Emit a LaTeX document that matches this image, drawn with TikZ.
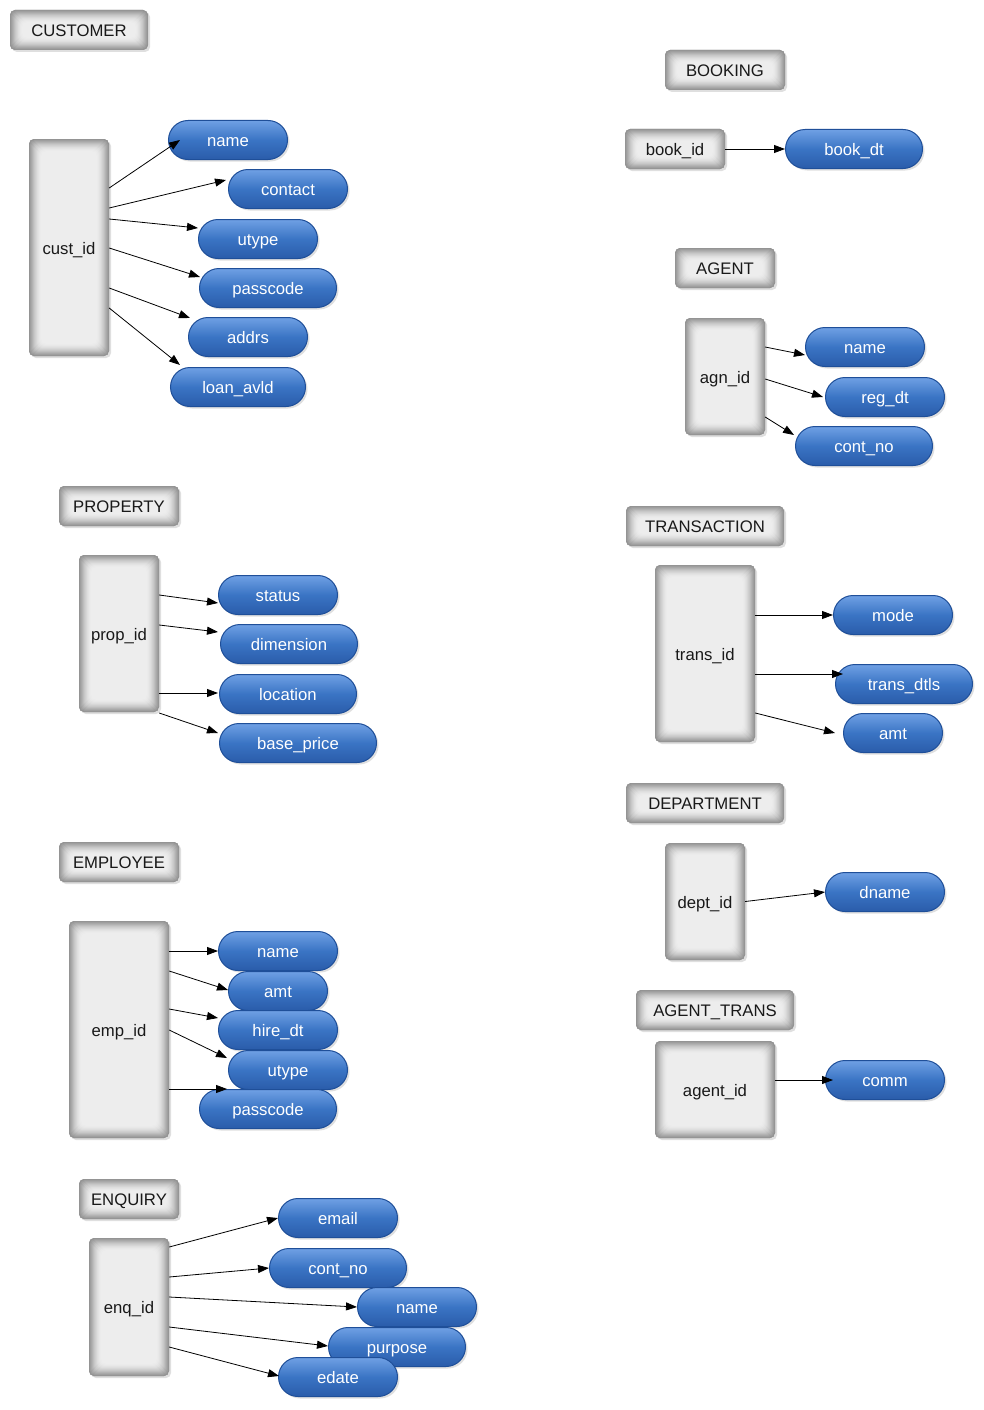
\documentclass[tikz,border=0pt]{standalone}
\usepackage{fontspec}
\setmainfont{Liberation Sans}
\usetikzlibrary{arrows.meta,shadows,calc}
\definecolor{pilltop}{HTML}{6FA0E4}
\definecolor{pillmid}{HTML}{3A74C4}
\definecolor{pillbot}{HTML}{2A5CAA}
\definecolor{pillborder}{HTML}{1F4F99}
\newcommand{\ff}{\fontsize{16.7}{18}\selectfont}
\tikzset{
  graybox/.style={rounded corners=5pt, inner sep=0pt, font=\ff, text=black!90,
    minimum height=40pt, text height=14pt, text depth=1pt,
    drop shadow={shadow xshift=2pt, shadow yshift=-2pt, opacity=0.25, fill=black!50},
    fill=black!42,
    path picture={
      \foreach \i/\c in {0/42,1/38,2/34,3/30,4/26,5/22,6/19,7/16,8/13,9/11,10/9,11/8,12/7}{
        \fill[black!\c, rounded corners=5pt]
          ([shift={(\i pt,-\i pt)}]path picture bounding box.north west) rectangle
          ([shift={(-\i pt,\i pt)}]path picture bounding box.south east);
      }
    }},
  pill/.style={rounded corners=19.5pt, draw=pillborder, line width=1pt,
    top color=pilltop, bottom color=pillbot, middle color=pillmid,
    text=white, font=\ff, minimum height=39pt, inner sep=0pt,
    text height=14pt, text depth=1pt,
    drop shadow={shadow xshift=2pt, shadow yshift=-2pt, opacity=0.25, fill=black!50}},
  arr/.style={draw=black, line width=0.8pt, -{Triangle[length=11pt,width=8pt]}},
}
\begin{document}
\begin{tikzpicture}[x=1pt,y=-1pt]
\fill[white] (0,0) rectangle (983,1410);
\useasboundingbox (0,0) rectangle (983,1410);

% ---------------- CUSTOMER
\node[graybox, minimum width=138pt] (hcust) at (79,30) {CUSTOMER};
\node[graybox, minimum width=80pt, minimum height=217pt] (cust) at (69,247.5) {cust\_id};
\node[pill, minimum width=119pt] (cname) at (228,140) {name};
\node[pill, minimum width=119pt] (ccontact) at (288,189) {contact};
\node[pill, minimum width=119pt] (cutype) at (258,239) {utype};
\node[pill, minimum width=137pt] (cpass) at (268,288) {passcode};
\node[pill, minimum width=119pt] (caddrs) at (248,337) {addrs};
\node[pill, minimum width=135pt] (cloan) at (238,387) {loan\_avld};

% ---------------- BOOKING
\node[graybox, minimum width=120pt] (hbook) at (725,70) {BOOKING};
\node[graybox, minimum width=100pt] (book) at (675,149) {book\_id};
\node[pill, minimum width=137pt] (bdt) at (854,149) {book\_dt};

% ---------------- AGENT
\node[graybox, minimum width=100pt] (hagent) at (725,268) {AGENT};
\node[graybox, minimum width=80pt, minimum height=117pt] (agn) at (725,376.5) {agn\_id};
\node[pill, minimum width=119pt] (aname) at (865,347) {name};
\node[pill, minimum width=119pt] (areg) at (885,397) {reg\_dt};
\node[pill, minimum width=137pt] (acont) at (864,446) {cont\_no};

% ---------------- TRANSACTION
\node[graybox, minimum width=158pt] (htrans) at (705,526) {TRANSACTION};
\node[graybox, minimum width=100pt, minimum height=177pt] (trans) at (705,653.5) {trans\_id};
\node[pill, minimum width=119pt] (tmode) at (893,615) {mode};
\node[pill, minimum width=137pt] (tdtls) at (904,684) {trans\_dtls};
\node[pill, minimum width=99pt] (tamt) at (893,733) {amt};

% ---------------- DEPARTMENT
\node[graybox, minimum width=158pt] (hdept) at (705,803) {DEPARTMENT};
\node[graybox, minimum width=80pt, minimum height=117pt] (dept) at (705,901.5) {dept\_id};
\node[pill, minimum width=119pt] (dname) at (885,892) {dname};

% ---------------- AGENT_TRANS
\node[graybox, minimum width=158pt] (hat) at (715,1010) {AGENT\_TRANS};
\node[graybox, minimum width=120pt, minimum height=97pt] (agt) at (715,1089.5) {agent\_id};
\node[pill, minimum width=119pt] (comm) at (885,1080) {comm};

% ---------------- PROPERTY
\node[graybox, minimum width=120pt] (hprop) at (119,506) {PROPERTY};
\node[graybox, minimum width=80pt, minimum height=157pt] (prop) at (119,633.5) {prop\_id};
\node[pill, minimum width=119pt] (pstatus) at (278,595) {status};
\node[pill, minimum width=137pt] (pdim) at (289,644) {dimension};
\node[pill, minimum width=137pt] (ploc) at (288,694) {location};
\node[pill, minimum width=157pt] (pbase) at (298,743) {base\_price};

% ---------------- EMPLOYEE
\node[graybox, minimum width=120pt] (hemp) at (119,862) {EMPLOYEE};
\node[graybox, minimum width=100pt, minimum height=217pt] (emp) at (119,1029.5) {emp\_id};
\node[pill, minimum width=119pt] (ename) at (278,951) {name};
\node[pill, minimum width=99pt] (eamt) at (278,991) {amt};
\node[pill, minimum width=119pt] (ehire) at (278,1030) {hire\_dt};
\node[pill, minimum width=119pt] (eutype) at (288,1070) {utype};
\node[pill, minimum width=137pt] (epass) at (268,1109) {passcode};

% ---------------- ENQUIRY
\node[graybox, minimum width=100pt] (henq) at (129,1199) {ENQUIRY};
\node[graybox, minimum width=80pt, minimum height=138pt] (enq) at (129,1307) {enq\_id};
\node[pill, minimum width=119pt] (qemail) at (338,1218) {email};
\node[pill, minimum width=137pt] (qcont) at (338,1268) {cont\_no};
\node[pill, minimum width=119pt] (qname) at (417,1307) {name};
\node[pill, minimum width=137pt] (qpurp) at (397,1347) {purpose};
\node[pill, minimum width=119pt] (qedate) at (338,1377) {edate};

% ================= connectors
% customer
\draw[arr] ($(cust.east)+(0,-59.5)$) -- ($(cname.west)+(12,0)$);
\draw[arr] ($(cust.east)+(0,-39.5)$) -- ($(ccontact.west)+(-2,-9)$);
\draw[arr] ($(cust.east)+(0,-28.5)$) -- ($(cutype.west)+(0,-11)$);
\draw[arr] ($(cust.east)+(0,0.5)$) -- ($(cpass.west)+(1,-11)$);
\draw[arr] ($(cust.east)+(0,40.5)$) -- ($(caddrs.west)+(2,-19)$);
\draw[arr] ($(cust.east)+(0,60.5)$) -- ($(cloan.west)+(10,-22)$);
% booking
\draw[arr] (book.east) -- (bdt.west);
% agent
\draw[arr] ($(agn.east)+(0,-29.5)$) -- ($(aname.west)+(0,8)$);
\draw[arr] ($(agn.east)+(0,2.5)$) -- ($(areg.west)+(-2,0)$);
\draw[arr] ($(agn.east)+(0,40.5)$) -- ($(acont.west)+(-1,-11)$);
% transaction
\draw[arr] (trans.east |- tmode.west) -- (tmode.west);
\draw[arr] ($(trans.east)+(0,20.5)$) -- ($(tdtls.west)+(8,-10)$);
\draw[arr] ($(trans.east)+(0,59.5)$) -- ($(tamt.west)+(-8,0)$);
% department
\draw[arr] (dept.east) -- (dname.west);
% agent_trans
\draw[arr] (agt.east |- comm.west) -- ($(comm.west)+(8,0)$);
% property
\draw[arr] ($(prop.east)+(0,-38.5)$) -- ($(pstatus.west)+(0,8)$);
\draw[arr] ($(prop.east)+(0,-8.5)$) -- ($(pdim.west)+(-2,-12)$);
\draw[arr] ($(prop.east)+(0,59.5)$) -- ($(ploc.west)+(-1,-1)$);
\draw[arr] ($(prop.east)+(0,79.5)$) -- ($(pbase.west)+(-1,-10)$);
% employee
\draw[arr] (emp.east |- ename.west) -- (ename.west);
\draw[arr] ($(emp.east)+(0,-58.5)$) -- ($(eamt.west)+(0,-1)$);
\draw[arr] ($(emp.east)+(0,-20.5)$) -- ($(ehire.west)+(0,-12)$);
\draw[arr] ($(emp.east)+(0,0.5)$) -- ($(eutype.west)+(-1,-12)$);
\draw[arr] ($(emp.east)+(0,59.5)$) -- ($(epass.west)+(28,-20)$);
% enquiry
\draw[arr] ($(enq.east)+(0,-60)$) -- (qemail.west);
\draw[arr] ($(enq.east)+(0,-30)$) -- (qcont.west);
\draw[arr] ($(enq.east)+(0,-10)$) -- (qname.west);
\draw[arr] ($(enq.east)+(0,20)$) -- ($(qpurp.west)+(0,-1)$);
\draw[arr] ($(enq.east)+(0,40)$) -- ($(qedate.west)+(1,-1)$);
\end{tikzpicture}
\end{document}
